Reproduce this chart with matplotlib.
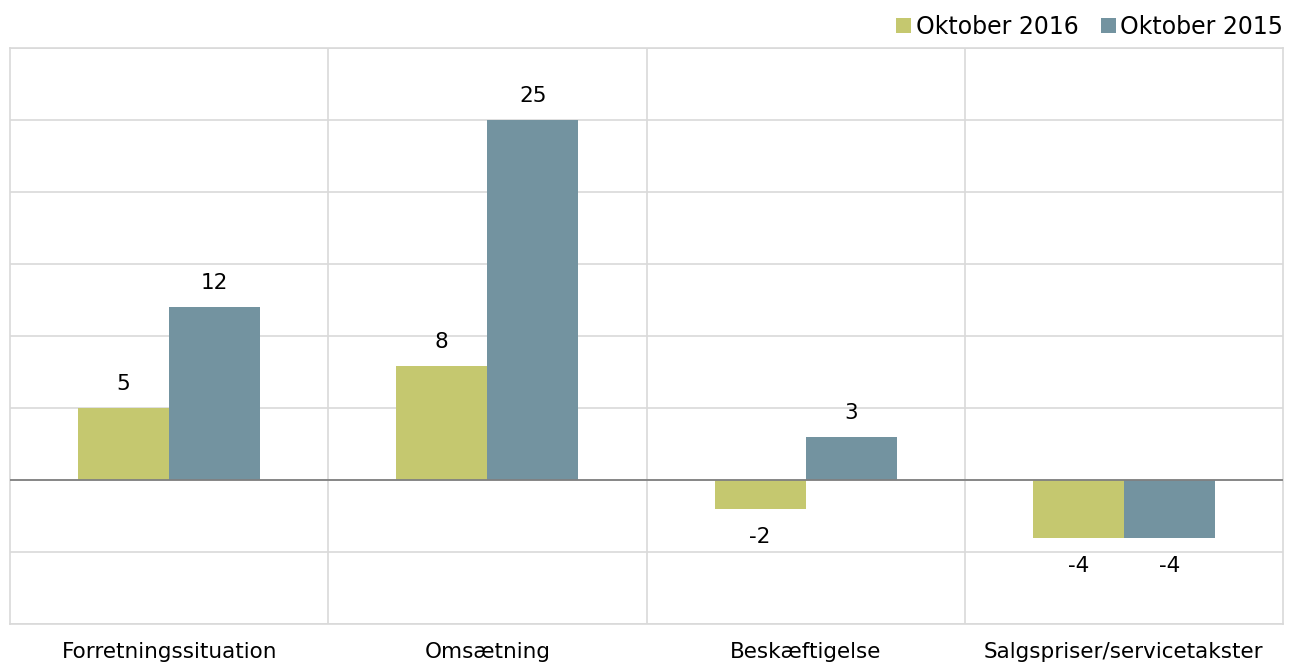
import numpy as np
import matplotlib.pyplot as plt

categories = ["Forretningssituation", "Omsætning", "Beskæftigelse", "Salgspriser/servicetakster"]
oct_2016 = [5, 7.9, -2, -4]
oct_2015 = [12, 25, 3, -4]
series_names = ["Oktober 2016", "Oktober 2015"]

GREEN = "#C5C86F"
BLUE = "#7393A0"
GRID = "#D9D9D9"

plt.rcParams['font.family'] = ['DejaVu Sans']

fig = plt.figure(figsize=(12.96, 6.64), dpi=100)
ax = fig.add_axes([10 / 1296, 1 - 624 / 664, 1273 / 1296, 576 / 664])

x = np.arange(len(categories))
w = 0.286
b1 = ax.bar(x - w / 2, oct_2016, w, color=GREEN, label=series_names[0], zorder=3)
b2 = ax.bar(x + w / 2, oct_2015, w, color=BLUE, label=series_names[1], zorder=3)

ax.set_xlim(-0.5, len(categories) - 0.5)
ax.set_ylim(-10, 30)
ax.set_yticks(np.arange(-10, 31, 5))
ax.yaxis.grid(True, color=GRID, lw=1.2, zorder=0)
ax.axhline(0, color="#808080", lw=1.3, zorder=4)
for xv in np.arange(0.5, len(categories) - 0.5):
    ax.axvline(xv, color=GRID, lw=1.2, zorder=0)

ax.set_xticks(x)
ax.set_xticklabels(categories, fontsize=15.5)
ax.tick_params(axis='x', length=0, pad=13)
ax.tick_params(axis='y', length=0, labelleft=False)
for s in ax.spines.values():
    s.set_color(GRID)
    s.set_linewidth(1.2)

for bars in (b1, b2):
    for bar in bars:
        v = bar.get_height()
        label = f"{v:.0f}"
        cx = bar.get_x() + bar.get_width() / 2
        if v >= 0:
            ax.annotate(label, (cx, v), xytext=(0, 10), textcoords="offset points",
                        ha="center", va="bottom", fontsize=15.5)
        else:
            ax.annotate(label, (cx, v), xytext=(0, -13), textcoords="offset points",
                        ha="center", va="top", fontsize=15.5)

ax.legend(loc="lower right", bbox_to_anchor=(1.004, 1.008), ncol=2, frameon=False,
          fontsize=17, handlelength=0.62, handleheight=0.62, handletextpad=0.2,
          columnspacing=0.95, borderaxespad=0.1, borderpad=0.1)

fig.savefig("out.png", dpi=100)
